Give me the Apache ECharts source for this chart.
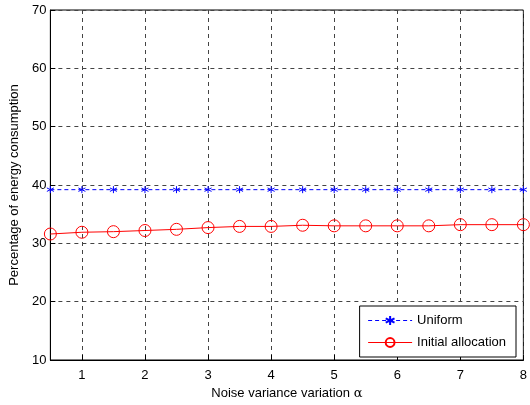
<!DOCTYPE html>
<html>
<head>
<meta charset="utf-8">
<script src="https://cdn.jsdelivr.net/npm/echarts@6/dist/echarts.min.js"></script>
<style>
  html, body { margin: 0; padding: 0; background: #fff; }
  #chart { width: 530px; height: 405px; }
</style>
</head>
<body>
<div id="chart"></div>
<script>
// noise variance variation alpha
const alphas = [0.5, 1, 1.5, 2, 2.5, 3, 3.5, 4, 4.5, 5, 5.5, 6, 6.5, 7, 7.5, 8]
const uniform = [39.2, 39.2, 39.2, 39.2, 39.2, 39.2, 39.2, 39.2, 39.2, 39.2, 39.2, 39.2, 39.2, 39.2, 39.2, 39.2]
const initialAlloc = [31.6, 31.9, 32.0, 32.2, 32.4, 32.7, 32.9, 32.9, 33.1, 33.0, 33.0, 33.0, 33.0, 33.2, 33.2, 33.2]
const xTicks = [1, 2, 3, 4, 5, 6, 7, 8]

const font = 'Liberation Sans, Arial, sans-serif'
// asterisk marker like matlab '*'
const star = 'path://M5,0 L5,10 M0.7,2.5 L9.3,7.5 M9.3,2.5 L0.7,7.5'
// hollow circle, grid shows through
const ring = 'path://M10,5 A5,5 0 1 1 0,5 A5,5 0 1 1 10,5 Z'

const chart = echarts.init(document.getElementById('chart'))

const option = {
    animation: false,
    grid: {
        left: 41, right: 6, top: 10, bottom: 38,
        show: true, borderColor: '#000', borderWidth: 1
    },
    legend: {
        orient: 'vertical',
        right: 14, bottom: 48,
        backgroundColor: '#fff',
        borderColor: '#000', borderWidth: 1,
        padding: [8, 10, 8, 8],
        itemGap: 9,
        itemWidth: 44, itemHeight: 11,
        lineStyle: { width: 1 },
        textStyle: { fontFamily: font, fontSize: 13, color: '#000' },
        data: ['Uniform', 'Initial allocation']
    },
    xAxis: {
        type: 'value',
        min: 0.5, max: 8, interval: 0.5,
        name: 'Noise variance variation {a|α}',
        nameLocation: 'middle', nameGap: 27,
        nameTextStyle: {
            fontFamily: font, fontSize: 13, color: '#000',
            rich: { a: { fontFamily: 'DejaVu Serif, serif', fontSize: 13, color: '#000' } }
        },
        axisLine: { lineStyle: { color: '#000' } },
        axisTick: { inside: true, length: 5, lineStyle: { color: '#000' }, customValues: xTicks },
        axisLabel: {
            fontFamily: font, fontSize: 13, color: '#000', margin: 9,
            customValues: xTicks
        },
        splitLine: {
            show: true,
            lineStyle: { color: '#444', type: [4, 4], width: 1 }
        }
    },
    yAxis: {
        type: 'value',
        min: 10, max: 70, interval: 10,
        name: 'Percentage of energy consumption',
        nameLocation: 'middle', nameGap: 27,
        nameTextStyle: { fontFamily: font, fontSize: 13, color: '#000' },
        axisLine: { show: true, lineStyle: { color: '#000' } },
        axisTick: { show: true, inside: true, length: 5, lineStyle: { color: '#000' } },
        axisLabel: { fontFamily: font, fontSize: 13, color: '#000', margin: 4 },
        splitLine: { show: true, lineStyle: { color: '#444', type: [4, 4], width: 1 } }
    },
    series: [
        {
            name: 'Uniform',
            type: 'line',
            data: alphas.map((a, i) => [a, uniform[i]]),
            symbol: star,
            symbolSize: 7,
            lineStyle: { color: '#0000ff', width: 1, type: [4, 3] },
            itemStyle: { color: '#0000ff', borderColor: '#0000ff', borderWidth: 1 }
        },
        {
            name: 'Initial allocation',
            type: 'line',
            data: alphas.map((a, i) => [a, initialAlloc[i]]),
            symbol: ring,
            symbolSize: 12,
            lineStyle: { color: '#ff0000', width: 1 },
            itemStyle: { color: 'transparent', borderColor: '#ff0000', borderWidth: 1 }
        }
    ]
}

chart.setOption(option)
</script>
</body>
</html>
